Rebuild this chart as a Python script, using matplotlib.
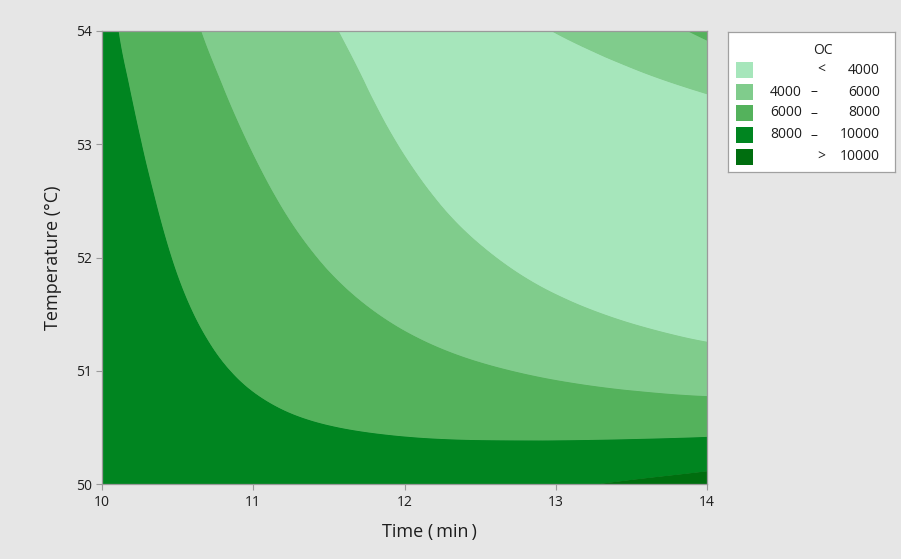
import numpy as np
import matplotlib
matplotlib.use('Agg')
import matplotlib.pyplot as plt
import matplotlib.tri as mtri
from matplotlib.patches import Rectangle

# ---- data (OC on a time x temperature grid) ----
time_min = [10.0, 10.5, 11.0, 11.5, 12.0, 12.5, 13.0, 13.5, 14.0]
temperature_c = [50.0, 50.5, 51.0, 51.5, 52.0, 52.5, 53.0, 53.5, 54.0]
oc_T50_0 = [8990, 8870, 8840, 8920, 9090, 9360, 9740, 10210, 10780]
oc_T50_5 = [9080, 8670, 8320, 8030, 7800, 7630, 7520, 7470, 7490]
oc_T51_0 = [9130, 8450, 7810, 7220, 6680, 6190, 5740, 5330, 4980]
oc_T51_5 = [9130, 8190, 7320, 6500, 5740, 5030, 4380, 3790, 3250]
oc_T52_0 = [9080, 7910, 6840, 5850, 4960, 4160, 3450, 2840, 2310]
oc_T52_5 = [8990, 7610, 6370, 5290, 4360, 3580, 2960, 2480, 2160]
oc_T53_0 = [8860, 7270, 5920, 4810, 3930, 3290, 2890, 2720, 2790]
oc_T53_5 = [8670, 6910, 5480, 4410, 3680, 3290, 3250, 3560, 4210]
oc_T54_0 = [8450, 6510, 5060, 4090, 3590, 3580, 4040, 4990, 6410]

level_edges = [4000, 6000, 8000, 10000]
legend_labels = [("", "<", "4000"), ("4000", "–", "6000"), ("6000", "–", "8000"),
                 ("8000", "–", "10000"), ("", ">", "10000")]
band_colors = ['#a6e6bb', '#80cc8c', '#54b25c', '#008520', '#006e0f']
x_ticks = [10, 11, 12, 13, 14]
y_ticks = [50, 51, 52, 53, 54]

# ---- figure ----
BG = '#e6e6e6'
TXT = '#1e1e1e'
plt.rcParams['font.family'] = ['Open Sans', 'DejaVu Sans']
fig = plt.figure(figsize=(9.01, 5.59), dpi=100, facecolor=BG)

ax = fig.add_axes([102 / 901, 1 - 484 / 559, 605 / 901, 453 / 559])
ax.set_facecolor(BG)

oc = np.array([oc_T50_0, oc_T50_5, oc_T51_0, oc_T51_5, oc_T52_0,
               oc_T52_5, oc_T53_0, oc_T53_5, oc_T54_0], float)
tg, Tg = np.meshgrid(time_min, temperature_c)
tri = mtri.Triangulation(tg.ravel(), Tg.ravel())
refiner = mtri.UniformTriRefiner(tri)
tri_f, z_f = refiner.refine_field(oc.ravel(), subdiv=4)
levels = [min(0, oc.min())] + level_edges + [max(20000, oc.max())]
ax.tricontourf(tri_f, z_f, levels=levels, colors=band_colors, antialiased=True)
ax.tricontourf(tri_f, z_f, levels=levels, colors=band_colors, antialiased=True)

ax.set_xlim(10, 14)
ax.set_ylim(50, 54)
ax.set_xticks(x_ticks)
ax.set_yticks(y_ticks)
ax.set_xticklabels([str(v) for v in x_ticks])
ax.set_yticklabels([str(v) for v in y_ticks])
ax.tick_params(axis='both', direction='out', length=4, width=0.8, color='#9a9a9a',
               labelsize=10, labelcolor=TXT)
ax.tick_params(axis='x', pad=4)
ax.tick_params(axis='y', pad=3)
for s in ax.spines.values():
    s.set_color('#9a9a9a')
    s.set_linewidth(0.9)
ax.set_xlabel('Time (\u2009min\u2009)', fontsize=13, color=TXT)
ax.xaxis.set_label_coords(0.542, -0.086)
ax.set_ylabel('Temperature (°C)', fontsize=13, color=TXT)
ax.yaxis.set_label_coords(-0.066, 0.5)

# ---- legend (Minitab-style box) ----
lax = fig.add_axes([728 / 901, 1 - 172 / 559, 167 / 901, 140 / 559])
lax.set_xlim(728, 895)
lax.set_ylim(172, 32)
lax.set_xticks([])
lax.set_yticks([])
lax.set_facecolor('white')
for s in lax.spines.values():
    s.set_color('#a0a0a0')
    s.set_linewidth(0.9)
lax.text(823, 50, 'OC', ha='center', va='center', fontsize=10, color=TXT)
row_y = [70, 92, 113, 135, 157]
for yy, col, (lo, op, hi) in zip(row_y, band_colors, legend_labels):
    lax.add_patch(Rectangle((736, yy - 8), 17, 16, facecolor=col, edgecolor='none'))
    lax.text(802, yy, lo, ha='right', va='center', fontsize=10, color=TXT)
    lax.text(821 if op != '–' else 814, yy, op, ha='center', va='center', fontsize=10, color=TXT)
    lax.text(880, yy, hi, ha='right', va='center', fontsize=10, color=TXT)

fig.savefig('out.png', dpi=100, facecolor=BG)
